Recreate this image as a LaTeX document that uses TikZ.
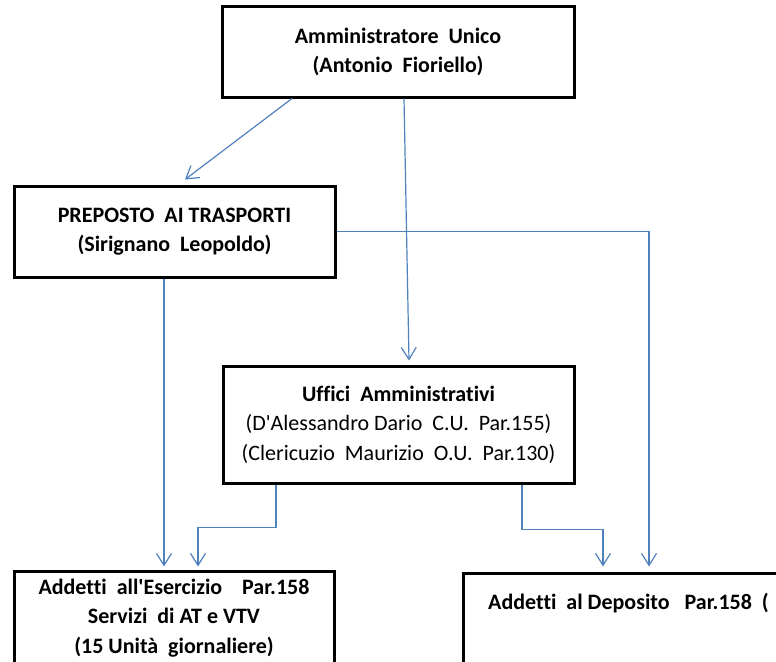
\documentclass[tikz,border=0pt]{standalone}
\usepackage{fontspec}
\setmainfont{Carlito}[Ligatures={NoCommon}]
\usetikzlibrary{arrows.meta}
\definecolor{linkblue}{RGB}{79,129,189}
\tikzset{
  orgbox/.style={draw=black, line width=3pt, rectangle, inner sep=0pt, align=center,
    font=\fontsize{22}{29.5}\selectfont\bfseries},
  link/.style={draw=linkblue, line width=1.2pt, -{Straight Barb[length=12pt,width=15pt,line width=1.2pt]}}
}
\begin{document}
\begin{tikzpicture}[x=1pt,y=-1pt]
\useasboundingbox (0,0) rectangle (776,661);
\node[orgbox, minimum width=352pt, minimum height=90pt] (top) at (398,52)
  {Amministratore~~Unico\\(Antonio~~Fioriello)};
\node[orgbox, minimum width=321pt, minimum height=91pt] (prep) at (174.5,231.5)
  {PREPOSTO~~AI TRASPORTI\\(Sirignano~~Leopoldo)};
\node[orgbox, minimum width=351pt, minimum height=117pt] (uff) at (398.5,424.5)
  {Uffici~~Amministrativi\\{\mdseries (D\textquotesingle Alessandro Dario~~C.U.~~Par.155)}\\{\mdseries (Clericuzio~~Maurizio~~O.U.~~Par.130)}};
\node[orgbox, minimum width=320pt, minimum height=94pt] (eser) at (174,618)
  {Addetti~~all\textquotesingle Esercizio~~~~Par.158\\Servizi~~di AT e VTV\\(15 Unità~~giornaliere)};
\node[orgbox, minimum width=337pt, minimum height=92pt] (depo) at (631.5,619) {};
\node[font=\fontsize{22}{29.5}\selectfont\bfseries, inner sep=0pt] (depotext) at (628.5,603)
  {Addetti~~al Deposito~~~Par.158~~(};
% connectors
\draw[link] ([xshift=-106pt]top.south) -- ([xshift=10.5pt,yshift=5pt]prep.north);
\draw[link] ([xshift=6pt]top.south) -- ([xshift=10.5pt,yshift=4pt]uff.north);
\draw[link] (prep.east) -| ([xshift=17.5pt,yshift=5pt]depo.north);
\draw[link] ([xshift=-10.5pt]prep.south) -- ([xshift=-10pt,yshift=3pt]eser.north);
\draw[link] ([xshift=-122.5pt]uff.south) -- ++(0,43) -| ([xshift=24pt,yshift=3pt]eser.north);
\draw[link] ([xshift=123.5pt]uff.south) -- ++(0,45) -| ([xshift=-28.5pt,yshift=5pt]depo.north);
\end{tikzpicture}
\end{document}
